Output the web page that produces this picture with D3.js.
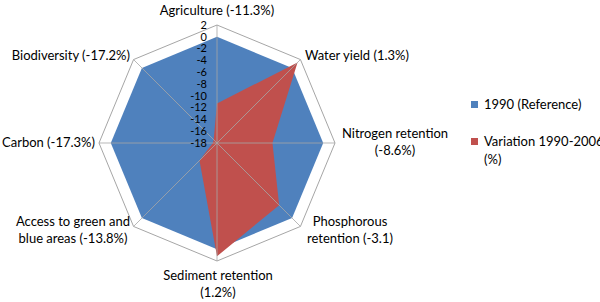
<!DOCTYPE html>
<html>
<head>
<meta charset="utf-8">
<script src="https://cdn.jsdelivr.net/npm/d3@7"></script>
<style>
  body { margin: 0; background: #fff; }
  text { font-family: Lato, "Open Sans", sans-serif; fill: #000; }
</style>
</head>
<body>
<svg width="600" height="302"></svg>
<script>
"use strict";

const categories = ['Agriculture', 'Water yield', 'Nitrogen retention', 'Phosphorous retention',
  'Sediment retention', 'Access to green and blue areas', 'Carbon', 'Biodiversity'];
const reference1990 = [0, 0, 0, 0, 0, 0, 0, 0];
const variation = [-11.3, 1.3, -8.6, -3.1, 1.2, -13.8, -17.3, -17.2];
const tickValues = [2, 0, -2, -4, -6, -8, -10, -12, -14, -16, -18];
const seriesNames = ['1990 (Reference)', 'Variation 1990-2006\n(%)'];

// label lines and placement for each spoke
const axisLabels = [
  { lines: ['Agriculture  (-11.3%)'], x: 217, y: 15, anchor: 'middle' },
  { lines: ['Water yield (1.3%)'], x: 305, y: 60, anchor: 'start' },
  { lines: ['Nitrogen retention', '(-8.6%)'], x: 395, y: 138, anchor: 'middle' },
  { lines: ['Phosphorous', 'retention (-3.1)'], x: 350, y: 226, anchor: 'middle' },
  { lines: ['Sediment retention', '(1.2%)'], x: 218, y: 280, anchor: 'middle' },
  { lines: ['Access to green and', 'blue areas (-13.8%)'], x: 73, y: 226, anchor: 'middle' },
  { lines: ['Carbon (-17.3%)'], x: 95, y: 147, anchor: 'end' },
  { lines: ['Biodiversity (-17.2%)'], x: 130, y: 60, anchor: 'end' }
];

const svg = d3.select('svg');
const cx = 217;
const cy = 143;
const radius = 118;
const lineGap = 17;

const r = d3.scaleLinear().domain([-18, 2]).range([0, radius]);
const angle = i => i * 2 * Math.PI / categories.length;
const px = (i, v) => Math.sin(angle(i)) * r(v);
const py = (i, v) => -Math.cos(angle(i)) * r(v);

const g = svg.append('g')
    .attr('transform', `translate(${cx}, ${cy})`);

const radial = d3.lineRadial()
    .angle((d, i) => angle(i))
    .radius(d => r(d))
    .curve(d3.curveLinearClosed);

// outer grid polygon
g.append('path')
    .attr('d', radial(categories.map(() => 2)))
    .attr('fill', 'none')
    .attr('stroke', '#a6a6a6')
    .attr('stroke-width', 1);

g.append('path')
    .attr('d', radial(reference1990))
    .attr('fill', '#4f81bd');

g.append('path')
    .attr('d', radial(variation))
    .attr('fill', '#c0504d');

// spokes
g.selectAll('.spoke')
  .data(categories)
  .join('line')
    .attr('class', 'spoke')
    .attr('x1', 0)
    .attr('y1', 0)
    .attr('x2', (d, i) => px(i, 2))
    .attr('y2', (d, i) => py(i, 2))
    .attr('stroke', '#a6a6a6')
    .attr('stroke-opacity', 0.8)
    .attr('stroke-width', 1);

// tick labels on the vertical axis
g.selectAll('.tick')
  .data(tickValues)
  .join('text')
    .attr('class', 'tick')
    .attr('x', -10)
    .attr('y', d => -r(d))
    .attr('dy', '0.35em')
    .attr('text-anchor', 'end')
    .attr('font-size', 11)
    .text(d => d);

// category labels
const labels = svg.selectAll('.axis-label')
  .data(axisLabels)
  .join('text')
    .attr('class', 'axis-label')
    .attr('text-anchor', d => d.anchor)
    .attr('font-size', 13);

labels.selectAll('tspan')
  .data(d => d.lines.map((t, k) => ({ t, k, x: d.x, y: d.y })))
  .join('tspan')
    .attr('x', d => d.x)
    .attr('y', d => d.y + d.k * lineGap)
    .text(d => d.t);

// legend
const legend = svg.append('g')
    .attr('transform', 'translate(471, 101)');

const items = legend.selectAll('g')
  .data(seriesNames)
  .join('g')
    .attr('transform', (d, i) => `translate(0, ${i * 37})`);

items.append('rect')
    .attr('width', 7)
    .attr('height', 7)
    .attr('fill', (d, i) => i === 0 ? '#4f81bd' : '#c0504d');

items.append('text')
    .attr('font-size', 13)
    .selectAll('tspan')
    .data(d => d.split('\n'))
    .join('tspan')
      .attr('x', 13)
      .attr('y', (d, k) => 8 + k * 18)
      .text(d => d);
</script>
</body>
</html>
